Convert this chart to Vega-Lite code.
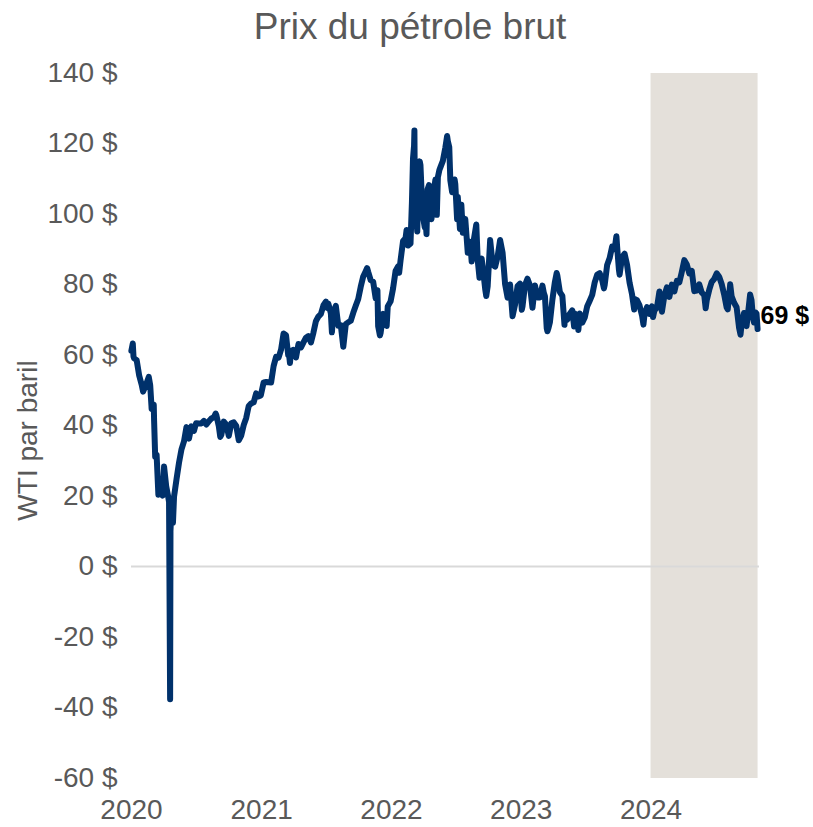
{
  "$schema": "https://vega.github.io/schema/vega-lite/v6.json",
  "autosize": {"type": "none"},
  "padding": {"left": 131, "top": 73, "right": 54, "bottom": 49},
  "width": 628,
  "height": 705,
  "background": "white",
  "config": {
    "view": {"stroke": null},
    "font": "Liberation Sans"
  },
  "title": {
    "text": "Prix du pétrole brut",
    "fontSize": 37,
    "fontWeight": "normal",
    "color": "#595959",
    "font": "Liberation Sans",
    "offset": 12,
    "dx": -35
  },
  "datasets": {
    "wti": [
      {"d": "2020-01-02", "p": 61.18}, {"d": "2020-01-06", "p": 63.27}, {"d": "2020-01-08", "p": 59.61},
      {"d": "2020-01-10", "p": 59.04}, {"d": "2020-01-17", "p": 58.54}, {"d": "2020-01-24", "p": 54.19},
      {"d": "2020-01-31", "p": 51.56}, {"d": "2020-02-04", "p": 49.61}, {"d": "2020-02-07", "p": 50.32},
      {"d": "2020-02-14", "p": 52.05}, {"d": "2020-02-20", "p": 53.78}, {"d": "2020-02-24", "p": 51.43},
      {"d": "2020-02-28", "p": 44.76}, {"d": "2020-03-05", "p": 45.90}, {"d": "2020-03-06", "p": 41.28},
      {"d": "2020-03-09", "p": 31.13}, {"d": "2020-03-13", "p": 31.73}, {"d": "2020-03-18", "p": 20.37},
      {"d": "2020-03-20", "p": 22.43}, {"d": "2020-03-27", "p": 21.51}, {"d": "2020-03-30", "p": 20.09},
      {"d": "2020-04-03", "p": 28.34}, {"d": "2020-04-09", "p": 22.76}, {"d": "2020-04-14", "p": 20.11},
      {"d": "2020-04-17", "p": 18.27}, {"d": "2020-04-20", "p": -37.63}, {"d": "2020-04-21", "p": 10.01},
      {"d": "2020-04-24", "p": 16.94}, {"d": "2020-04-28", "p": 12.34}, {"d": "2020-05-01", "p": 19.78},
      {"d": "2020-05-08", "p": 24.74}, {"d": "2020-05-15", "p": 29.43}, {"d": "2020-05-22", "p": 33.25},
      {"d": "2020-05-29", "p": 35.49}, {"d": "2020-06-05", "p": 39.55}, {"d": "2020-06-12", "p": 36.26},
      {"d": "2020-06-19", "p": 39.75}, {"d": "2020-06-26", "p": 38.49}, {"d": "2020-07-02", "p": 40.65},
      {"d": "2020-07-10", "p": 40.55}, {"d": "2020-07-17", "p": 40.59}, {"d": "2020-07-24", "p": 41.29},
      {"d": "2020-07-31", "p": 40.27}, {"d": "2020-08-07", "p": 41.22}, {"d": "2020-08-14", "p": 42.01},
      {"d": "2020-08-21", "p": 42.34}, {"d": "2020-08-26", "p": 43.39}, {"d": "2020-08-28", "p": 42.97},
      {"d": "2020-09-04", "p": 39.77}, {"d": "2020-09-08", "p": 36.76}, {"d": "2020-09-11", "p": 37.33},
      {"d": "2020-09-18", "p": 41.11}, {"d": "2020-09-25", "p": 40.25}, {"d": "2020-10-02", "p": 37.05},
      {"d": "2020-10-09", "p": 40.60}, {"d": "2020-10-16", "p": 40.88}, {"d": "2020-10-23", "p": 39.85},
      {"d": "2020-10-30", "p": 35.79}, {"d": "2020-11-06", "p": 37.14}, {"d": "2020-11-13", "p": 40.13},
      {"d": "2020-11-20", "p": 42.15}, {"d": "2020-11-27", "p": 45.53}, {"d": "2020-12-04", "p": 46.26},
      {"d": "2020-12-11", "p": 46.57}, {"d": "2020-12-18", "p": 49.10}, {"d": "2020-12-24", "p": 48.23},
      {"d": "2020-12-31", "p": 48.52},
      {"d": "2021-01-08", "p": 52.24}, {"d": "2021-01-15", "p": 52.36}, {"d": "2021-01-22", "p": 52.27},
      {"d": "2021-01-29", "p": 52.20}, {"d": "2021-02-05", "p": 56.85}, {"d": "2021-02-12", "p": 59.47},
      {"d": "2021-02-19", "p": 59.24}, {"d": "2021-02-26", "p": 61.50}, {"d": "2021-03-05", "p": 66.09},
      {"d": "2021-03-12", "p": 65.61}, {"d": "2021-03-18", "p": 60.00}, {"d": "2021-03-19", "p": 61.42},
      {"d": "2021-03-23", "p": 57.76}, {"d": "2021-03-26", "p": 60.97}, {"d": "2021-04-01", "p": 61.45},
      {"d": "2021-04-09", "p": 59.32}, {"d": "2021-04-16", "p": 63.13}, {"d": "2021-04-23", "p": 62.14},
      {"d": "2021-04-30", "p": 63.58}, {"d": "2021-05-07", "p": 64.90}, {"d": "2021-05-14", "p": 65.37},
      {"d": "2021-05-21", "p": 63.58}, {"d": "2021-05-28", "p": 66.32}, {"d": "2021-06-04", "p": 69.62},
      {"d": "2021-06-11", "p": 70.91}, {"d": "2021-06-18", "p": 71.64}, {"d": "2021-06-25", "p": 74.05},
      {"d": "2021-07-02", "p": 75.16}, {"d": "2021-07-06", "p": 73.37}, {"d": "2021-07-09", "p": 74.56},
      {"d": "2021-07-16", "p": 71.81}, {"d": "2021-07-19", "p": 66.42}, {"d": "2021-07-23", "p": 72.07},
      {"d": "2021-07-30", "p": 73.95}, {"d": "2021-08-06", "p": 68.28}, {"d": "2021-08-13", "p": 68.44},
      {"d": "2021-08-20", "p": 62.32}, {"d": "2021-08-27", "p": 68.74}, {"d": "2021-09-03", "p": 69.29},
      {"d": "2021-09-10", "p": 69.72}, {"d": "2021-09-17", "p": 71.97}, {"d": "2021-09-24", "p": 73.98},
      {"d": "2021-10-01", "p": 75.88}, {"d": "2021-10-08", "p": 79.35}, {"d": "2021-10-15", "p": 82.28},
      {"d": "2021-10-22", "p": 83.76}, {"d": "2021-10-26", "p": 84.65}, {"d": "2021-10-29", "p": 83.57},
      {"d": "2021-11-05", "p": 81.27}, {"d": "2021-11-12", "p": 80.79}, {"d": "2021-11-19", "p": 76.10},
      {"d": "2021-11-24", "p": 78.39}, {"d": "2021-11-26", "p": 68.15}, {"d": "2021-12-01", "p": 65.57},
      {"d": "2021-12-03", "p": 66.26}, {"d": "2021-12-10", "p": 71.67}, {"d": "2021-12-17", "p": 70.86},
      {"d": "2021-12-20", "p": 68.23}, {"d": "2021-12-23", "p": 73.79}, {"d": "2021-12-31", "p": 75.21},
      {"d": "2022-01-07", "p": 78.90}, {"d": "2022-01-14", "p": 83.82}, {"d": "2022-01-21", "p": 85.14},
      {"d": "2022-01-24", "p": 83.31}, {"d": "2022-01-28", "p": 86.82}, {"d": "2022-02-04", "p": 92.31},
      {"d": "2022-02-11", "p": 93.10}, {"d": "2022-02-14", "p": 95.46}, {"d": "2022-02-18", "p": 91.07},
      {"d": "2022-02-25", "p": 91.59}, {"d": "2022-03-01", "p": 103.41}, {"d": "2022-03-04", "p": 115.68},
      {"d": "2022-03-07", "p": 119.40}, {"d": "2022-03-08", "p": 123.70}, {"d": "2022-03-09", "p": 108.70},
      {"d": "2022-03-10", "p": 106.02}, {"d": "2022-03-11", "p": 109.33}, {"d": "2022-03-15", "p": 96.44},
      {"d": "2022-03-16", "p": 95.04}, {"d": "2022-03-18", "p": 104.70}, {"d": "2022-03-23", "p": 114.93},
      {"d": "2022-03-25", "p": 113.90}, {"d": "2022-03-29", "p": 104.24}, {"d": "2022-04-01", "p": 99.27},
      {"d": "2022-04-06", "p": 96.23}, {"d": "2022-04-08", "p": 98.26}, {"d": "2022-04-11", "p": 94.29},
      {"d": "2022-04-14", "p": 106.95}, {"d": "2022-04-18", "p": 108.21}, {"d": "2022-04-22", "p": 102.07},
      {"d": "2022-04-25", "p": 98.54}, {"d": "2022-04-29", "p": 104.69}, {"d": "2022-05-06", "p": 109.77},
      {"d": "2022-05-10", "p": 99.76}, {"d": "2022-05-13", "p": 110.49}, {"d": "2022-05-17", "p": 112.40},
      {"d": "2022-05-20", "p": 113.23}, {"d": "2022-05-27", "p": 115.07}, {"d": "2022-06-03", "p": 118.87},
      {"d": "2022-06-08", "p": 122.11}, {"d": "2022-06-10", "p": 120.67}, {"d": "2022-06-14", "p": 118.93},
      {"d": "2022-06-17", "p": 109.56}, {"d": "2022-06-22", "p": 106.19}, {"d": "2022-06-24", "p": 107.62},
      {"d": "2022-06-29", "p": 109.78}, {"d": "2022-07-01", "p": 108.43}, {"d": "2022-07-06", "p": 98.53},
      {"d": "2022-07-08", "p": 104.79}, {"d": "2022-07-14", "p": 95.78}, {"d": "2022-07-18", "p": 102.60},
      {"d": "2022-07-22", "p": 94.70}, {"d": "2022-07-26", "p": 94.98}, {"d": "2022-07-29", "p": 98.62},
      {"d": "2022-08-05", "p": 89.01}, {"d": "2022-08-12", "p": 92.09}, {"d": "2022-08-16", "p": 86.53},
      {"d": "2022-08-19", "p": 90.77}, {"d": "2022-08-29", "p": 97.01}, {"d": "2022-09-02", "p": 86.87},
      {"d": "2022-09-07", "p": 81.94}, {"d": "2022-09-09", "p": 86.79}, {"d": "2022-09-13", "p": 87.31},
      {"d": "2022-09-16", "p": 85.11}, {"d": "2022-09-23", "p": 78.74}, {"d": "2022-09-26", "p": 76.71},
      {"d": "2022-09-30", "p": 79.49}, {"d": "2022-10-07", "p": 92.64}, {"d": "2022-10-14", "p": 85.61},
      {"d": "2022-10-21", "p": 85.05}, {"d": "2022-10-28", "p": 87.90}, {"d": "2022-11-04", "p": 92.61},
      {"d": "2022-11-11", "p": 88.96}, {"d": "2022-11-18", "p": 80.08}, {"d": "2022-11-25", "p": 76.28},
      {"d": "2022-11-28", "p": 77.24}, {"d": "2022-12-02", "p": 79.98}, {"d": "2022-12-09", "p": 71.02},
      {"d": "2022-12-16", "p": 74.29}, {"d": "2022-12-23", "p": 79.56}, {"d": "2022-12-30", "p": 80.26},
      {"d": "2023-01-04", "p": 72.84}, {"d": "2023-01-06", "p": 73.77}, {"d": "2023-01-13", "p": 79.86},
      {"d": "2023-01-20", "p": 81.64}, {"d": "2023-01-27", "p": 79.68}, {"d": "2023-02-03", "p": 73.39},
      {"d": "2023-02-10", "p": 79.72}, {"d": "2023-02-17", "p": 76.34}, {"d": "2023-02-24", "p": 76.32},
      {"d": "2023-03-03", "p": 79.68}, {"d": "2023-03-07", "p": 77.58}, {"d": "2023-03-10", "p": 76.68},
      {"d": "2023-03-15", "p": 67.61}, {"d": "2023-03-17", "p": 66.74}, {"d": "2023-03-20", "p": 67.64},
      {"d": "2023-03-24", "p": 69.26}, {"d": "2023-03-31", "p": 75.67}, {"d": "2023-04-07", "p": 80.70},
      {"d": "2023-04-12", "p": 83.26}, {"d": "2023-04-14", "p": 82.52}, {"d": "2023-04-21", "p": 77.87},
      {"d": "2023-04-28", "p": 76.78}, {"d": "2023-05-04", "p": 68.56}, {"d": "2023-05-05", "p": 71.34},
      {"d": "2023-05-12", "p": 70.04}, {"d": "2023-05-19", "p": 71.69}, {"d": "2023-05-26", "p": 72.67},
      {"d": "2023-05-31", "p": 68.09}, {"d": "2023-06-02", "p": 71.74}, {"d": "2023-06-09", "p": 70.17},
      {"d": "2023-06-12", "p": 67.12}, {"d": "2023-06-16", "p": 71.78}, {"d": "2023-06-23", "p": 69.16},
      {"d": "2023-06-30", "p": 70.64}, {"d": "2023-07-07", "p": 73.86}, {"d": "2023-07-14", "p": 75.42},
      {"d": "2023-07-21", "p": 77.07}, {"d": "2023-07-28", "p": 80.58}, {"d": "2023-08-04", "p": 82.82},
      {"d": "2023-08-11", "p": 83.19}, {"d": "2023-08-18", "p": 81.25}, {"d": "2023-08-23", "p": 78.89},
      {"d": "2023-08-25", "p": 79.83}, {"d": "2023-09-01", "p": 85.55}, {"d": "2023-09-08", "p": 87.51},
      {"d": "2023-09-15", "p": 90.77}, {"d": "2023-09-22", "p": 90.03}, {"d": "2023-09-27", "p": 93.68},
      {"d": "2023-09-29", "p": 90.79}, {"d": "2023-10-04", "p": 84.22}, {"d": "2023-10-06", "p": 82.79},
      {"d": "2023-10-13", "p": 87.69}, {"d": "2023-10-20", "p": 88.75}, {"d": "2023-10-27", "p": 85.54},
      {"d": "2023-11-03", "p": 80.51}, {"d": "2023-11-10", "p": 77.17}, {"d": "2023-11-16", "p": 72.90},
      {"d": "2023-11-17", "p": 75.89}, {"d": "2023-11-24", "p": 75.54}, {"d": "2023-12-01", "p": 74.07},
      {"d": "2023-12-08", "p": 71.23}, {"d": "2023-12-12", "p": 68.61}, {"d": "2023-12-15", "p": 71.43},
      {"d": "2023-12-22", "p": 73.56}, {"d": "2023-12-29", "p": 71.65},
      {"d": "2024-01-05", "p": 73.81}, {"d": "2024-01-08", "p": 70.77}, {"d": "2024-01-12", "p": 72.68},
      {"d": "2024-01-19", "p": 73.41}, {"d": "2024-01-26", "p": 78.01}, {"d": "2024-02-02", "p": 72.28},
      {"d": "2024-02-09", "p": 76.84}, {"d": "2024-02-16", "p": 79.19}, {"d": "2024-02-23", "p": 76.49},
      {"d": "2024-03-01", "p": 79.97}, {"d": "2024-03-08", "p": 78.01}, {"d": "2024-03-15", "p": 81.04},
      {"d": "2024-03-22", "p": 80.63}, {"d": "2024-03-28", "p": 83.17}, {"d": "2024-04-05", "p": 86.91},
      {"d": "2024-04-12", "p": 85.66}, {"d": "2024-04-19", "p": 83.14}, {"d": "2024-04-26", "p": 83.85},
      {"d": "2024-05-03", "p": 78.11}, {"d": "2024-05-10", "p": 78.26}, {"d": "2024-05-17", "p": 80.06},
      {"d": "2024-05-24", "p": 77.72}, {"d": "2024-05-31", "p": 76.99}, {"d": "2024-06-04", "p": 73.25},
      {"d": "2024-06-07", "p": 75.53}, {"d": "2024-06-14", "p": 78.45}, {"d": "2024-06-21", "p": 80.73},
      {"d": "2024-06-28", "p": 81.54}, {"d": "2024-07-05", "p": 83.16}, {"d": "2024-07-12", "p": 82.21},
      {"d": "2024-07-19", "p": 80.13}, {"d": "2024-07-26", "p": 77.16}, {"d": "2024-08-02", "p": 73.52},
      {"d": "2024-08-05", "p": 72.94}, {"d": "2024-08-09", "p": 76.84}, {"d": "2024-08-12", "p": 80.06},
      {"d": "2024-08-16", "p": 76.65}, {"d": "2024-08-23", "p": 74.83}, {"d": "2024-08-30", "p": 73.55},
      {"d": "2024-09-06", "p": 67.67}, {"d": "2024-09-10", "p": 65.75}, {"d": "2024-09-13", "p": 68.65},
      {"d": "2024-09-20", "p": 71.92}, {"d": "2024-09-27", "p": 68.18}, {"d": "2024-10-04", "p": 74.38},
      {"d": "2024-10-07", "p": 77.14}, {"d": "2024-10-11", "p": 75.56}, {"d": "2024-10-15", "p": 70.58},
      {"d": "2024-10-18", "p": 69.22}, {"d": "2024-10-22", "p": 72.09}, {"d": "2024-10-25", "p": 71.78},
      {"d": "2024-10-28", "p": 67.38}
    ]
  },
  "layer": [
    {
      "data": {"values": [{"start": "2024-01-01", "end": "2024-10-28", "low": -60, "high": 140}]},
      "mark": {"type": "rect", "color": "#e4e0da"},
      "encoding": {
        "x": {"field": "start", "type": "temporal"},
        "x2": {"field": "end"},
        "y": {"field": "low", "type": "quantitative"},
        "y2": {"field": "high"}
      }
    },
    {
      "data": {"values": [{"zero": 0}]},
      "mark": {"type": "rule", "color": "#d9d9d9", "strokeWidth": 2},
      "encoding": {"y": {"field": "zero", "type": "quantitative"}}
    },
    {
      "data": {"name": "wti"},
      "mark": {"type": "line", "color": "#00316b", "strokeWidth": 6, "strokeJoin": "round", "strokeCap": "round"},
      "encoding": {
        "x": {
          "field": "d",
          "type": "temporal",
          "scale": {
            "type": "utc",
            "domain": [{"year": 2020, "month": 1, "date": 1, "utc": true}, {"year": 2024, "month": 11, "date": 1, "utc": true}]
          },
          "axis": {
            "title": null,
            "values": [
              {"year": 2020, "month": 1, "date": 1, "utc": true},
              {"year": 2021, "month": 1, "date": 1, "utc": true},
              {"year": 2022, "month": 1, "date": 1, "utc": true},
              {"year": 2023, "month": 1, "date": 1, "utc": true},
              {"year": 2024, "month": 1, "date": 1, "utc": true}
            ],
            "format": "%Y",
            "labelFontSize": 28,
            "labelColor": "#595959",
            "labelPadding": 18,
            "labelFlush": false,
            "labelOverlap": false,
            "domain": false,
            "ticks": false,
            "grid": false
          }
        },
        "y": {
          "field": "p",
          "type": "quantitative",
          "scale": {"domain": [-60, 140], "nice": false, "zero": false},
          "axis": {
            "title": "WTI par baril",
            "titleFontSize": 28,
            "titleFontWeight": "normal",
            "titleColor": "#595959",
            "titleX": -103,
            "titleY": 367,
            "titleAlign": "center",
            "titleBaseline": "middle",
            "values": [-60, -40, -20, 0, 20, 40, 60, 80, 100, 120, 140],
            "labelExpr": "datum.value + ' $'",
            "labelFontSize": 28,
            "labelColor": "#595959",
            "labelPadding": 14,
            "domain": false,
            "ticks": false,
            "grid": false
          }
        }
      }
    },
    {
      "data": {"values": [{"d": "2024-10-28", "p": 69, "label": "69 $"}]},
      "mark": {"type": "text", "align": "left", "baseline": "middle", "dx": 3, "dy": -7, "fontSize": 25, "fontWeight": "bold", "color": "#000000"},
      "encoding": {
        "x": {"field": "d", "type": "temporal"},
        "y": {"field": "p", "type": "quantitative"},
        "text": {"field": "label"}
      }
    }
  ]
}
